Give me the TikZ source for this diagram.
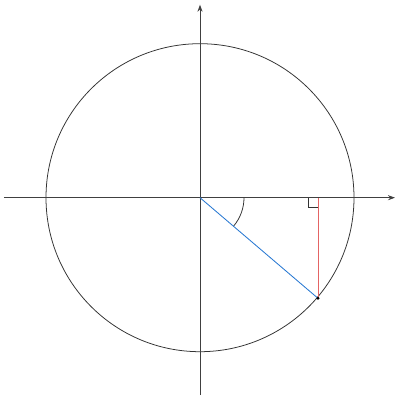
\documentclass[tikz,border=0pt]{standalone}
\usetikzlibrary{arrows.meta}
\definecolor{sinred}{RGB}{228,100,100}
\definecolor{radblue}{RGB}{40,120,210}
\begin{document}
\begin{tikzpicture}[x=0.025cm,y=0.025cm,
  axis/.style={line width=0.6pt,draw=black!75,-{Stealth[length=5pt,width=3.6pt]}},
  thinline/.style={line width=0.55pt,draw=black!80}]
\useasboundingbox (-200,-202.3) rectangle (200,197.7);
\coordinate (O) at (0,0);
\coordinate (P) at (118,-100.6);
\coordinate (F) at (118,0);
\coordinate (XL) at (-196,0);
\coordinate (XR) at (195,0);
\coordinate (YB) at (0,-197.5);
\coordinate (YT) at (0,193);
\draw[thinline] (O) circle (154);
\draw[axis] (XL) -- (XR);
\draw[axis] (YB) -- (YT);
\draw[thinline] (44,0) arc (0:-40.5:44);
\draw[thinline] (F) ++(-10,0) -- ++(0,-10) -- ++(10,0);
\draw[draw=sinred,line width=0.7pt] (P) -- (F);
\draw[draw=radblue,line width=0.6pt] (O) -- (P);
\fill (P) circle (1.6);
\end{tikzpicture}
\end{document}
